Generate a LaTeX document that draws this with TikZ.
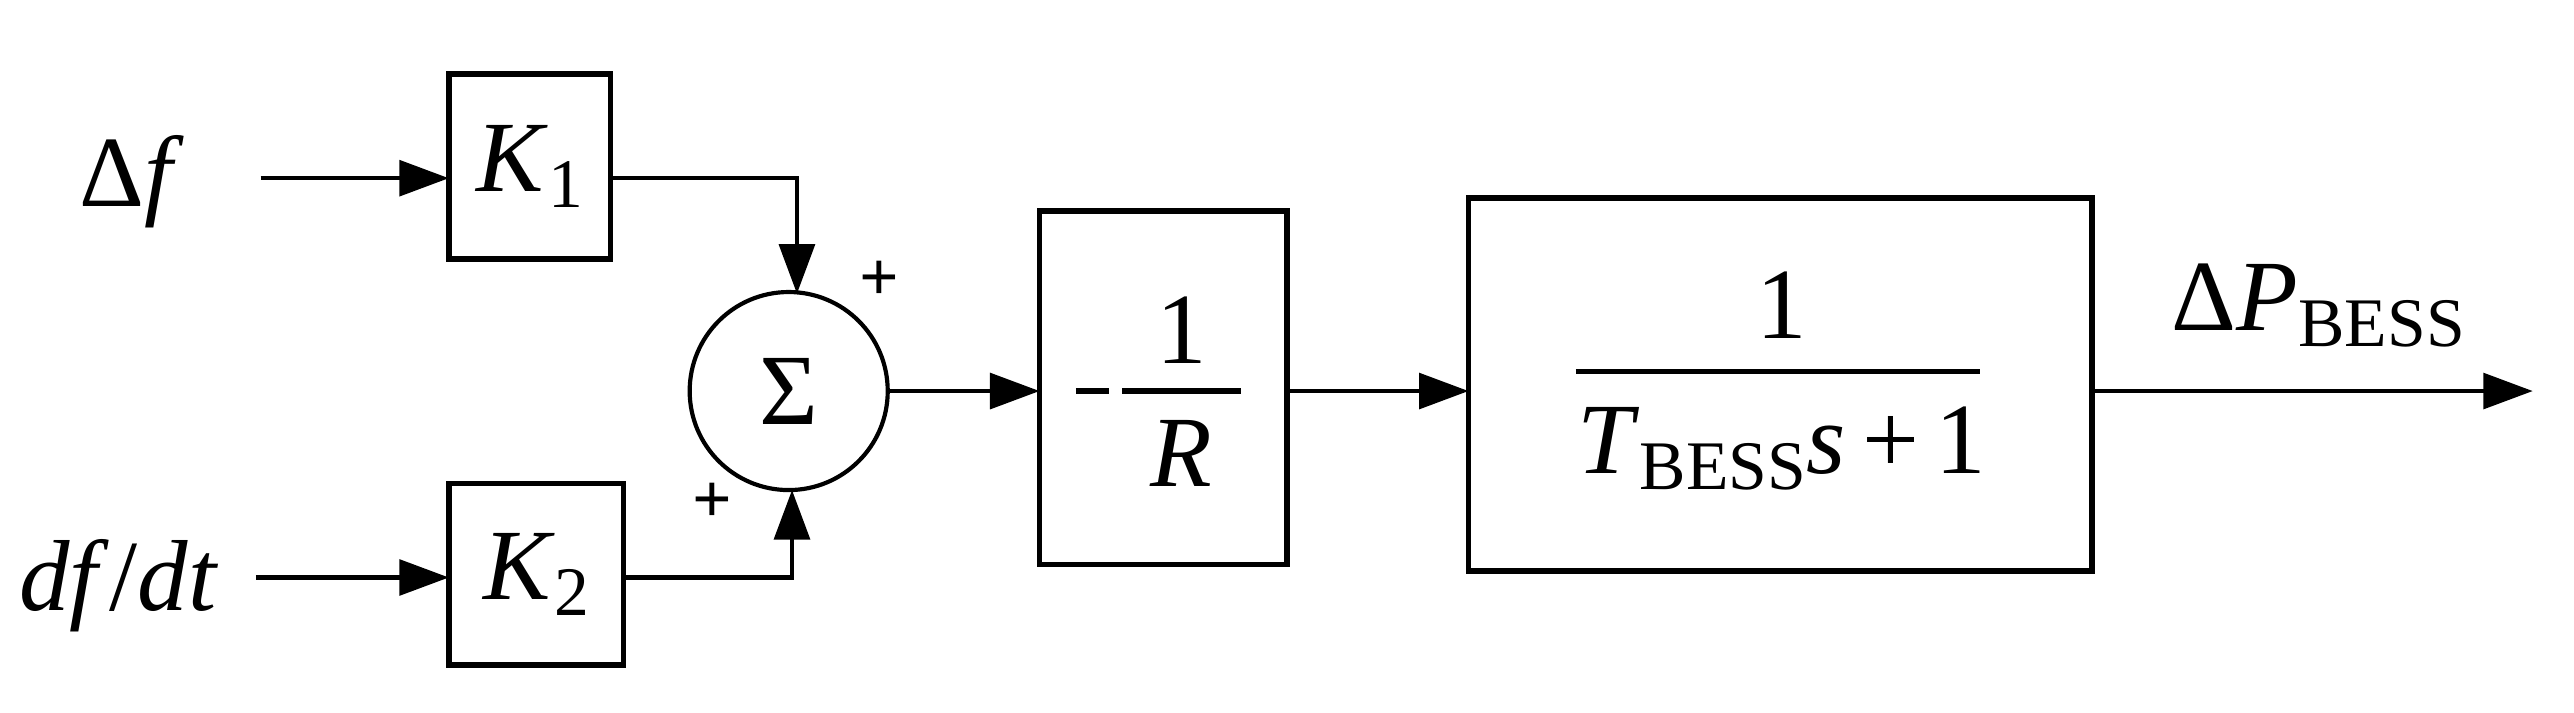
\documentclass[tikz,border=0pt]{standalone}
\usepackage{fontspec}
\setmainfont{Liberation Serif}
\usetikzlibrary{arrows.meta}
\newcommand{\sbx}[1]{\raisebox{-0.35ex}{\fontsize{20}{24}\selectfont #1}}
\begin{document}
\begin{tikzpicture}[x=0.01667cm,y=-0.01667cm,
  blk/.style={draw,line width=1.6pt},
  ln/.style={line width=1.2pt},
  arr/.style={ln,-{Triangle[length=0.5cm,width=0.36cm]}},
  big/.style={font=\fontsize{29}{34}\selectfont},
  sm/.style={font=\fontsize{20}{24}\selectfont\bfseries}]
\useasboundingbox (0,0) rectangle (1560,432);
\node[big] (df) at (80,110) {Δ\textit{f}};
\node[big] (dfdt) at (72,355) {\textit{df}/\textit{dt}};
\coordinate (a1) at (158,108);
\coordinate (a2) at (155,350);
\draw[blk] (272,45) rectangle (370,157); \node[big] (K1) at (321,101) {\textit{K}\sbx{1}};
\draw[blk] (272,293) rectangle (378,403); \node[big] (K2) at (325,348) {\textit{K}\sbx{2}};
\node[draw,circle,line width=1.2pt,minimum size=2cm,inner sep=0,big] (S) at (478,237) {Σ};
\coordinate (k1r) at (370,108); \coordinate (k2r) at (378,350);
\coordinate (c1) at (483,108); \coordinate (c2) at (480,350);
\draw[arr] (a1) -- (272,108);
\draw[arr] (a2) -- (272,350);
\draw[arr] (k1r) -- (c1) -- (483,178);
\draw[arr] (k2r) -- (c2) -- (480,297);
\node[sm] at (533,170) {+};
\node[sm] at (432,305) {+};
\draw[blk] (630,128) rectangle (780,342);
\draw[arr] (S.east) -- (630,237);
\draw[line width=1.5pt] (652,237) -- (672,237);
\draw[line width=1.5pt] (680,237) -- (752,237);
\node[big] (one) at (716,200) {1};
\node[big] (R) at (716,275) {\textit{R}};
\draw[arr] (780,237) -- (890,237);
\draw[blk] (890,120) rectangle (1268,346);
\node[big] (n1) at (1080,185) {1};
\draw[line width=1.5pt] (955,225) -- (1200,225);
\node[big] (den) at (1080,272) {\textit{T}\sbx{BESS}\textit{s}\,+\,1};
\coordinate (out) at (1535,237);
\draw[arr] (1268,237) -- (out);
\node[big] (P) at (1405,185) {Δ\textit{P}\sbx{BESS}};
\end{tikzpicture}
\end{document}
